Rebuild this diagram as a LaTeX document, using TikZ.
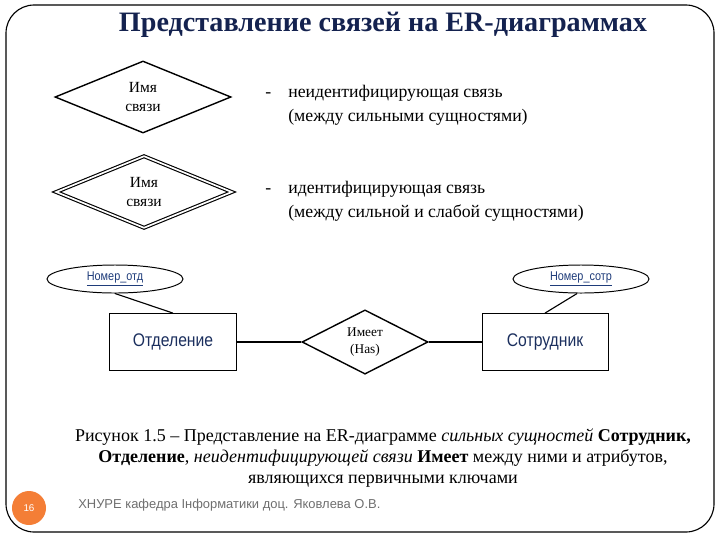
\documentclass[tikz,border=0pt]{standalone}
\usepackage{fontspec}
\setmainfont{Liberation Serif}
\setsansfont{Liberation Sans}
\newfontfamily\narrowsans[FakeStretch=0.86]{Liberation Sans}
\definecolor{titlenavy}{HTML}{14224F}
\definecolor{entnavy}{HTML}{1B2F5E}
\definecolor{attrblue}{HTML}{1F3C7A}
\definecolor{slideorange}{HTML}{F47E36}
\definecolor{footgray}{HTML}{6E6E6E}
\usetikzlibrary{positioning,shapes.geometric}

\begin{document}
\begin{tikzpicture}[
  x=0.025cm, y=-0.025cm,
  font=\fontsize{12.8}{14.6}\selectfont,
  rel/.style={draw, line width=1pt, diamond, inner sep=0pt, minimum width=4.4cm, minimum height=1.8cm, align=center, font=\fontsize{11}{13}\selectfont},
  idrel/.style={rel, double, double distance=1.2pt, line width=0.8pt},
  ent/.style={draw, line width=0.7pt, minimum width=3.15cm, minimum height=1.42cm, font=\narrowsans\fontsize{13}{15}\selectfont, text=entnavy},
  attr/.style={draw, line width=0.7pt, ellipse, inner sep=0pt, minimum width=3.4cm, minimum height=0.7cm, font=\narrowsans\fontsize{9}{10}\selectfont, text=attrblue},
  txt/.style={anchor=base west, align=left, inner sep=0pt, font=\fontsize{12.6}{17}\selectfont},
  link/.style={line width=0.8pt},
]
  \useasboundingbox (0,0) rectangle (720,540);
  % slide frame
  \draw[line width=0.8pt, rounded corners=20] (6,5) rectangle (714,532);

  \node[font=\bfseries\fontsize{20}{24}\selectfont, text=titlenavy] (title) at (383,25) {Представление связей на ER-диаграммах};

  % legend
  \node[rel]   (nonid) at (143,97)  {Имя\\связи};
  \node[idrel] (ident) at (144,192) {Имя\\связи};
  \node[txt] (dash1) at (265,97) {-};
  \node[txt] (desc1) at (288,121) {неидентифицирующая связь\\(между сильными сущностями)};
  \node[txt] (dash2) at (265,193) {-};
  \node[txt] (desc2) at (288,217) {идентифицирующая связь\\(между сильной и слабой сущностями)};

  % example
  \node[attr] (otdkey)  at (115,279) {\underline{Номер\_отд}};
  \node[attr] (sotrkey) at (581,279) {\underline{Номер\_сотр}};
  \node[ent]  (otdel)   at (173,342) {Отделение};
  \node[ent]  (sotr)    at (545,342) {Сотрудник};
  \node[rel, minimum width=3.15cm, minimum height=1.4cm, font=\fontsize{9.5}{12}\selectfont] (has) at (365,342) {Имеет\\(Has)};

  \draw[link] (otdkey.south) -- (otdel.north);
  \draw[link] (sotrkey.-105) -- (sotr.north);
  \draw[link] (otdel) -- (has);
  \draw[link] (has) -- (sotr);

  % caption
  \node[align=center] (caption) at (383,458) {Рисунок 1.5 -- Представление на ER-диаграмме \textit{сильных сущностей} \textbf{Сотрудник,}\\
    \textbf{Отделение}, \textit{неидентифицирующей связи} \textbf{Имеет} между ними и атрибутов,\\
    являющихся первичными ключами};

  % footer
  \node[circle, fill=slideorange, minimum size=0.85cm, inner sep=0pt, text=white, font=\sffamily\fontsize{7}{8}\selectfont] (pagenum) at (29,508) {16};
  \node[anchor=west, inner sep=0pt, text=footgray, font=\sffamily\fontsize{9.2}{11}\selectfont] (footer) at (78,505) {ХНУРЕ кафедра Інформатики доц. Яковлева О.В.};
\end{tikzpicture}
\end{document}
